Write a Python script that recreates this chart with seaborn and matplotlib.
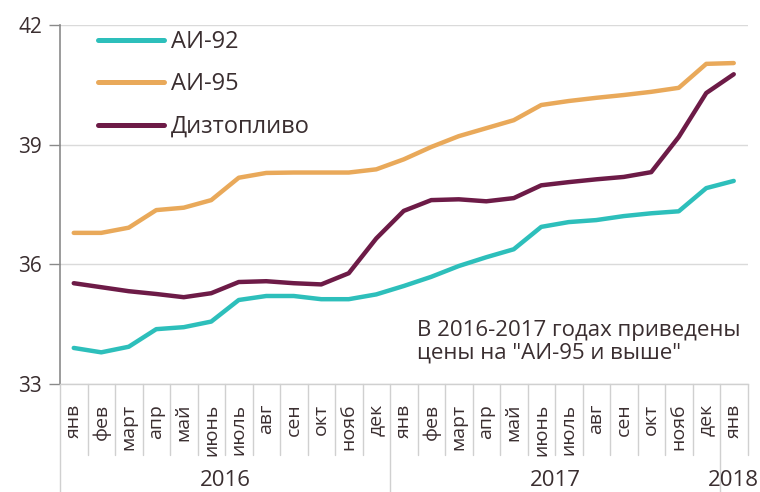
import matplotlib
matplotlib.use("Agg")
import matplotlib.pyplot as plt
import seaborn as sns
import pandas as pd

months = ["янв", "фев", "март", "апр", "май", "июнь", "июль", "авг", "сен", "окт", "нояб", "дек",
          "янв", "фев", "март", "апр", "май", "июнь", "июль", "авг", "сен", "окт", "нояб", "дек",
          "янв"]
years = ["2016", "2017", "2018"]
year_centers = [5.5, 17.5, 24]
year_bounds = [-0.5, 11.5, 23.5]

ai92 = [33.91, 33.80, 33.94, 34.38, 34.43, 34.57, 35.11, 35.21, 35.21, 35.13, 35.13, 35.25,
        35.46, 35.69, 35.96, 36.18, 36.38, 36.94, 37.06, 37.11, 37.21, 37.28, 37.33, 37.91,
        38.09]
ai95 = [36.79, 36.79, 36.92, 37.36, 37.42, 37.61, 38.17, 38.29, 38.30, 38.30, 38.30, 38.38,
        38.63, 38.94, 39.21, 39.41, 39.61, 39.99, 40.09, 40.17, 40.24, 40.32, 40.42, 41.02,
        41.04]
diesel = [35.53, 35.43, 35.33, 35.26, 35.18, 35.28, 35.56, 35.58, 35.53, 35.50, 35.78, 36.65,
          37.34, 37.61, 37.63, 37.58, 37.66, 37.98, 38.06, 38.13, 38.19, 38.31, 39.19, 40.29,
          40.76]
series_names = ["АИ-92", "АИ-95", "Дизтопливо"]
colors = ["#2DBFBB", "#E9A95A", "#6D1B47"]
note = "В 2016-2017 годах приведены\nцены на \"АИ-95 и выше\""

rows = []
for name, vals in zip(series_names, [ai92, ai95, diesel]):
    for i, v in enumerate(vals):
        rows.append({"idx": i, "value": v, "series": name})
df = pd.DataFrame(rows)

sns.set_style("white")
plt.rcParams["font.family"] = ["Open Sans", "DejaVu Sans"]
TXT = "#3A2E30"

fig = plt.figure(figsize=(7.6, 4.92), dpi=100)
ax = fig.add_axes([60 / 760, 1 - 384.3 / 492, 687.5 / 760, (384.3 - 24.7) / 492])

sns.lineplot(data=df, x="idx", y="value", hue="series", hue_order=series_names,
             palette=colors, linewidth=3.2, ax=ax, legend=True,
             solid_joinstyle="round", solid_capstyle="round")

ax.set_xlim(-0.5, len(months) - 0.5)
ax.set_ylim(33, 42)
ax.set_yticks([33, 36, 39, 42])
ax.set_yticklabels(["33", "36", "39", "42"], fontsize=15, color=TXT)
ax.yaxis.grid(True, color="#DADADA", linewidth=1)
ax.set_axisbelow(True)
ax.tick_params(axis="y", length=8, width=1, color="#8A8A8A", pad=5, left=True)
ax.set_xticks(range(len(months)))
ax.set_xticklabels(months, rotation=90, fontsize=14, color=TXT)
ax.tick_params(axis="x", length=0, pad=14)
ax.set_xlabel("")
ax.set_ylabel("")

for s in ["top", "right"]:
    ax.spines[s].set_visible(False)
ax.spines["left"].set_color("#8A8A8A")
ax.spines["left"].set_linewidth(1.2)
ax.spines["bottom"].set_color("#D0D0D0")
ax.spines["bottom"].set_linewidth(1)

trans = ax.get_xaxis_transform()
h = ax.get_position().height * 492
short = -(455 - 384.3) / h
full = -(492 - 384.3) / h
for b in range(len(months) + 1):
    xb = b - 0.5
    low = full if xb in year_bounds else short
    ax.plot([xb, xb], [0, low], transform=trans, color="#D0D0D0", lw=1, clip_on=False)

for yl, xc in zip(years, year_centers):
    ax.text(xc, -(480 - 384.3) / h, yl, transform=trans, ha="center", va="center",
            fontsize=16, color=TXT)

ax.text(417 / 760, 1 - 320 / 492, note, transform=fig.transFigure, ha="left", va="top",
        fontsize=16, color=TXT, linespacing=1.1)

leg = ax.legend(loc="upper left", bbox_to_anchor=(98 / 760, 1 - 30 / 492),
                bbox_transform=fig.transFigure, frameon=False, fontsize=17,
                handlelength=2.8, handletextpad=0.3, labelspacing=0.78,
                borderpad=0, borderaxespad=0)
for t in leg.get_texts():
    t.set_color(TXT)
for l in leg.get_lines():
    l.set_linewidth(3.6)

fig.savefig("out.png", dpi=100)
